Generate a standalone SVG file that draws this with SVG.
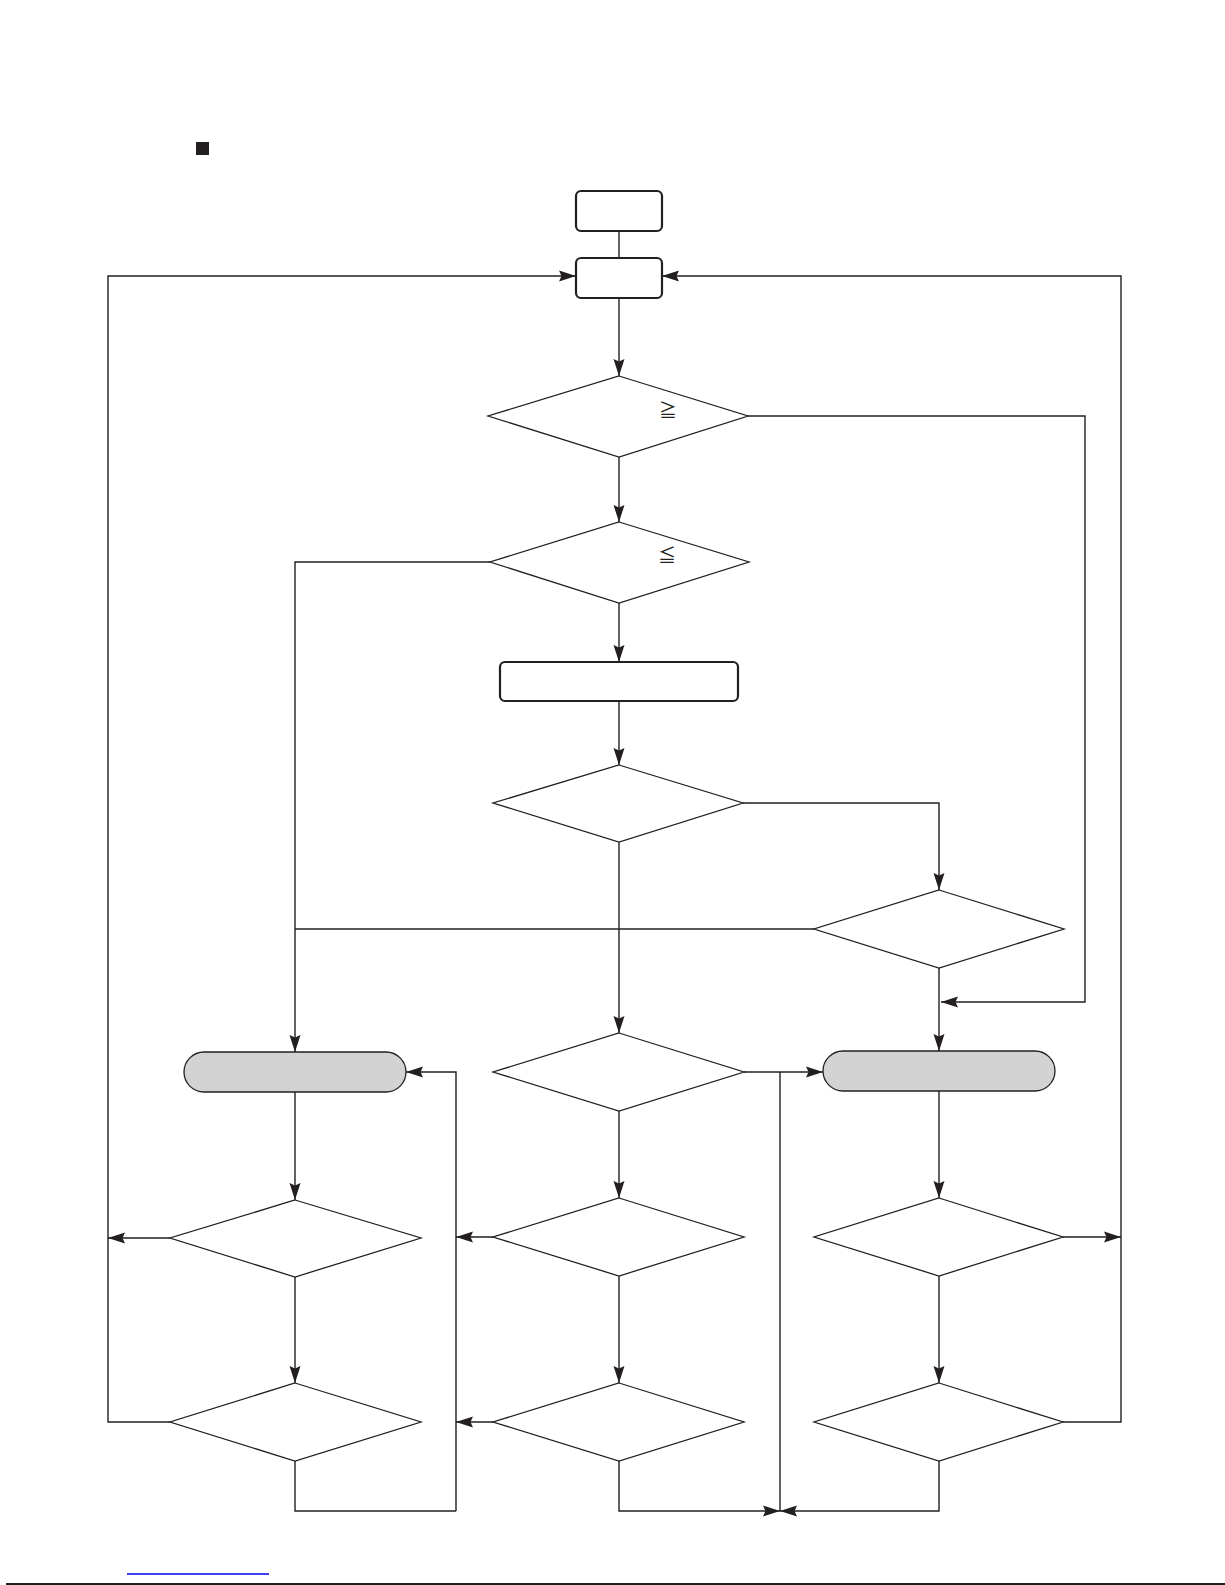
<svg xmlns="http://www.w3.org/2000/svg" width="1225" height="1585" viewBox="0 0 1225 1585">
<style>
.box{fill:#fff;stroke:#231f20;stroke-width:2.2}
.term{fill:#d3d3d3;stroke:#231f20;stroke-width:1.3}
.dia{fill:#fff;stroke:#231f20;stroke-width:1.3}
.ln{fill:none;stroke:#231f20;stroke-width:1.4}
.arr{marker-end:url(#ah)}
.sym{font-family:"Noto Sans CJK JP","DejaVu Sans",sans-serif;font-size:18px;fill:#231f20;text-anchor:middle}
</style>
<defs>
<marker id="ah" markerUnits="userSpaceOnUse" markerWidth="18" markerHeight="12" refX="17" refY="6" orient="auto">
<path d="M0,0.5 L17,6 L0,11.5 L2.5,6 z" fill="#231f20"/>
</marker>
</defs>
<rect width="1225" height="1585" fill="#fff"/>
<rect x="196" y="142" width="13" height="13" fill="#231f20"/>

<g id="connectors">
<polyline class="ln" points="619,231 619,258"/>
<polyline class="ln arr" points="619,298 619,376"/>
<polyline class="ln arr" points="619,457 619,522"/>
<polyline class="ln arr" points="748,416 1085,416 1085,1002 941,1002"/>
<polyline class="ln arr" points="619,603 619,662"/>
<polyline class="ln arr" points="490,562 295,562 295,1052"/>
<polyline class="ln arr" points="619,701 619,765"/>
<polyline class="ln arr" points="743,803 939,803 939,890"/>
<polyline class="ln arr" points="619,842 619,1033"/>
<polyline class="ln" points="814,929 295,929"/>
<polyline class="ln arr" points="939,968 939,1051"/>
<polyline class="ln arr" points="744,1072 823,1072"/>
<polyline class="ln" points="780,1072 780,1511"/>
<polyline class="ln arr" points="619,1111 619,1198"/>
<polyline class="ln arr" points="493,1237 456,1237"/>
<polyline class="ln arr" points="619,1276 619,1383"/>
<polyline class="ln arr" points="493,1422 456,1422"/>
<polyline class="ln arr" points="619,1461 619,1511 780,1511"/>
<polyline class="ln arr" points="456,1511 456,1072 406,1072"/>
<polyline class="ln arr" points="295,1092 295,1200"/>
<polyline class="ln arr" points="170,1238 108,1238"/>
<polyline class="ln arr" points="295,1277 295,1383"/>
<polyline class="ln arr" points="170,1422 108,1422 108,276 576,276"/>
<polyline class="ln" points="295,1461 295,1511 456,1511"/>
<polyline class="ln arr" points="939,1091 939,1198"/>
<polyline class="ln arr" points="1063,1237 1121,1237"/>
<polyline class="ln arr" points="939,1276 939,1383"/>
<polyline class="ln arr" points="1063,1422 1121,1422 1121,276 662,276"/>
<polyline class="ln arr" points="939,1461 939,1511 780,1511"/>
</g>

<g id="start"><rect class="box" x="576" y="191" width="86" height="40" rx="5"/></g>
<g id="box2"><rect class="box" x="576" y="258" width="86" height="40" rx="5"/></g>
<g id="d1"><polygon class="dia" points="619,376 748,416 619,457 488,416"/><text class="sym" x="668" y="417">≧</text></g>
<g id="d2"><polygon class="dia" points="619,522 749,562 619,603 490,562"/><text class="sym" x="667" y="562">≦</text></g>
<g id="box3"><rect class="box" x="500" y="662" width="238" height="39" rx="5"/></g>
<g id="d3"><polygon class="dia" points="619,765 743,803 619,842 493,803"/></g>
<g id="dR"><polygon class="dia" points="939,890 1064,929 939,968 814,929"/></g>
<g id="dM"><polygon class="dia" points="619,1033 744,1072 619,1111 493,1072"/></g>
<g id="termL"><rect class="term" x="184" y="1052" width="222" height="40" rx="20"/></g>
<g id="termR"><rect class="term" x="823" y="1051" width="232" height="40" rx="20"/></g>
<g id="L1"><polygon class="dia" points="295,1200 421,1238 295,1277 170,1238"/></g>
<g id="L2"><polygon class="dia" points="295,1383 421,1422 295,1461 170,1422"/></g>
<g id="M1"><polygon class="dia" points="619,1198 744,1237 619,1276 493,1237"/></g>
<g id="M2"><polygon class="dia" points="619,1383 744,1422 619,1461 493,1422"/></g>
<g id="R1"><polygon class="dia" points="939,1198 1063,1237 939,1276 814,1237"/></g>
<g id="R2"><polygon class="dia" points="939,1383 1063,1422 939,1461 814,1422"/></g>

<line x1="127" y1="1574" x2="269" y2="1574" stroke="#0000ee" stroke-width="1.5"/>
<line x1="6" y1="1584" x2="1225" y2="1584" stroke="#231f20" stroke-width="2"/>
</svg>
